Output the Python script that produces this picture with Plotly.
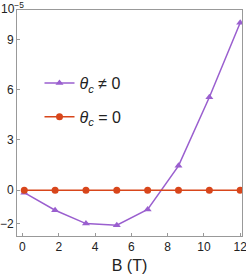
import plotly.graph_objects as go

B = [0.1, 1.8, 3.5, 5.2, 6.9, 8.6, 10.3, 12.0]
theta_nonzero = [-0.15, -1.2, -2.0, -2.1, -1.15, 1.45, 5.55, 10.0]
theta_zero = [0, 0, 0, 0, 0, 0, 0, 0]
x_ticks = [0, 2, 4, 6, 8, 10, 12]
y_ticks = [-2, 0, 3, 6, 9]

purple = "#9A5FCF"
red = "#D8461B"
font = "Liberation Sans, Arial, sans-serif"

fig = go.Figure()
fig.add_trace(go.Scatter(
    x=B, y=theta_nonzero, mode="lines+markers",
    name="<i>θ</i><sub><i>c</i></sub> ≠ 0",
    line=dict(color=purple, width=1.5),
    marker=dict(symbol="triangle-up", size=7, color=purple),
    legend="legend",
))
fig.add_trace(go.Scatter(
    x=B, y=theta_zero, mode="lines+markers",
    name="<i>θ</i><sub><i>c</i></sub> = 0",
    line=dict(color=red, width=1.5),
    marker=dict(symbol="circle", size=7, color=red),
    legend="legend2",
))

axis_common = dict(
    showgrid=False, zeroline=False, showline=True, mirror=True,
    linecolor="#999999", linewidth=1, ticks="inside", ticklen=3,
    tickcolor="#999999", tickfont=dict(family=font, size=12, color="#222"),
    automargin=False, ticklabeloverflow="allow",
)
fig.update_xaxes(range=[-0.3, 12.1], tickvals=x_ticks,
                 title=dict(text="B (T)", font=dict(family=font, size=16, color="#222"), standoff=6),
                 **axis_common)
fig.update_yaxes(range=[-2.74, 10.76], tickvals=y_ticks,
                 ticktext=["−2", "0", "3", "6", "9"], **axis_common)

fig.add_annotation(text="10<sup>−5</sup>", xref="paper", yref="paper", x=0, y=1,
                   xanchor="left", yanchor="bottom", showarrow=False,
                   xshift=-18, yshift=-8,
                   font=dict(family=font, size=12, color="#222"))

leg_common = dict(x=0.1, xanchor="left", yanchor="middle",
                  bgcolor="rgba(0,0,0,0)",
                  font=dict(family=font, size=16, color="#222"), itemwidth=30)
fig.update_layout(
    width=246, height=276,
    margin=dict(l=17, r=4, t=10, b=40, autoexpand=False),
    paper_bgcolor="white", plot_bgcolor="white",
    showlegend=True,
    legend=dict(y=0.677, **leg_common),
    legend2=dict(y=0.527, **leg_common),
)

fig.write_html("out.html", config={"displayModeBar": False},
               post_script="document.body.style.margin='0';document.body.style.overflow='hidden';")
